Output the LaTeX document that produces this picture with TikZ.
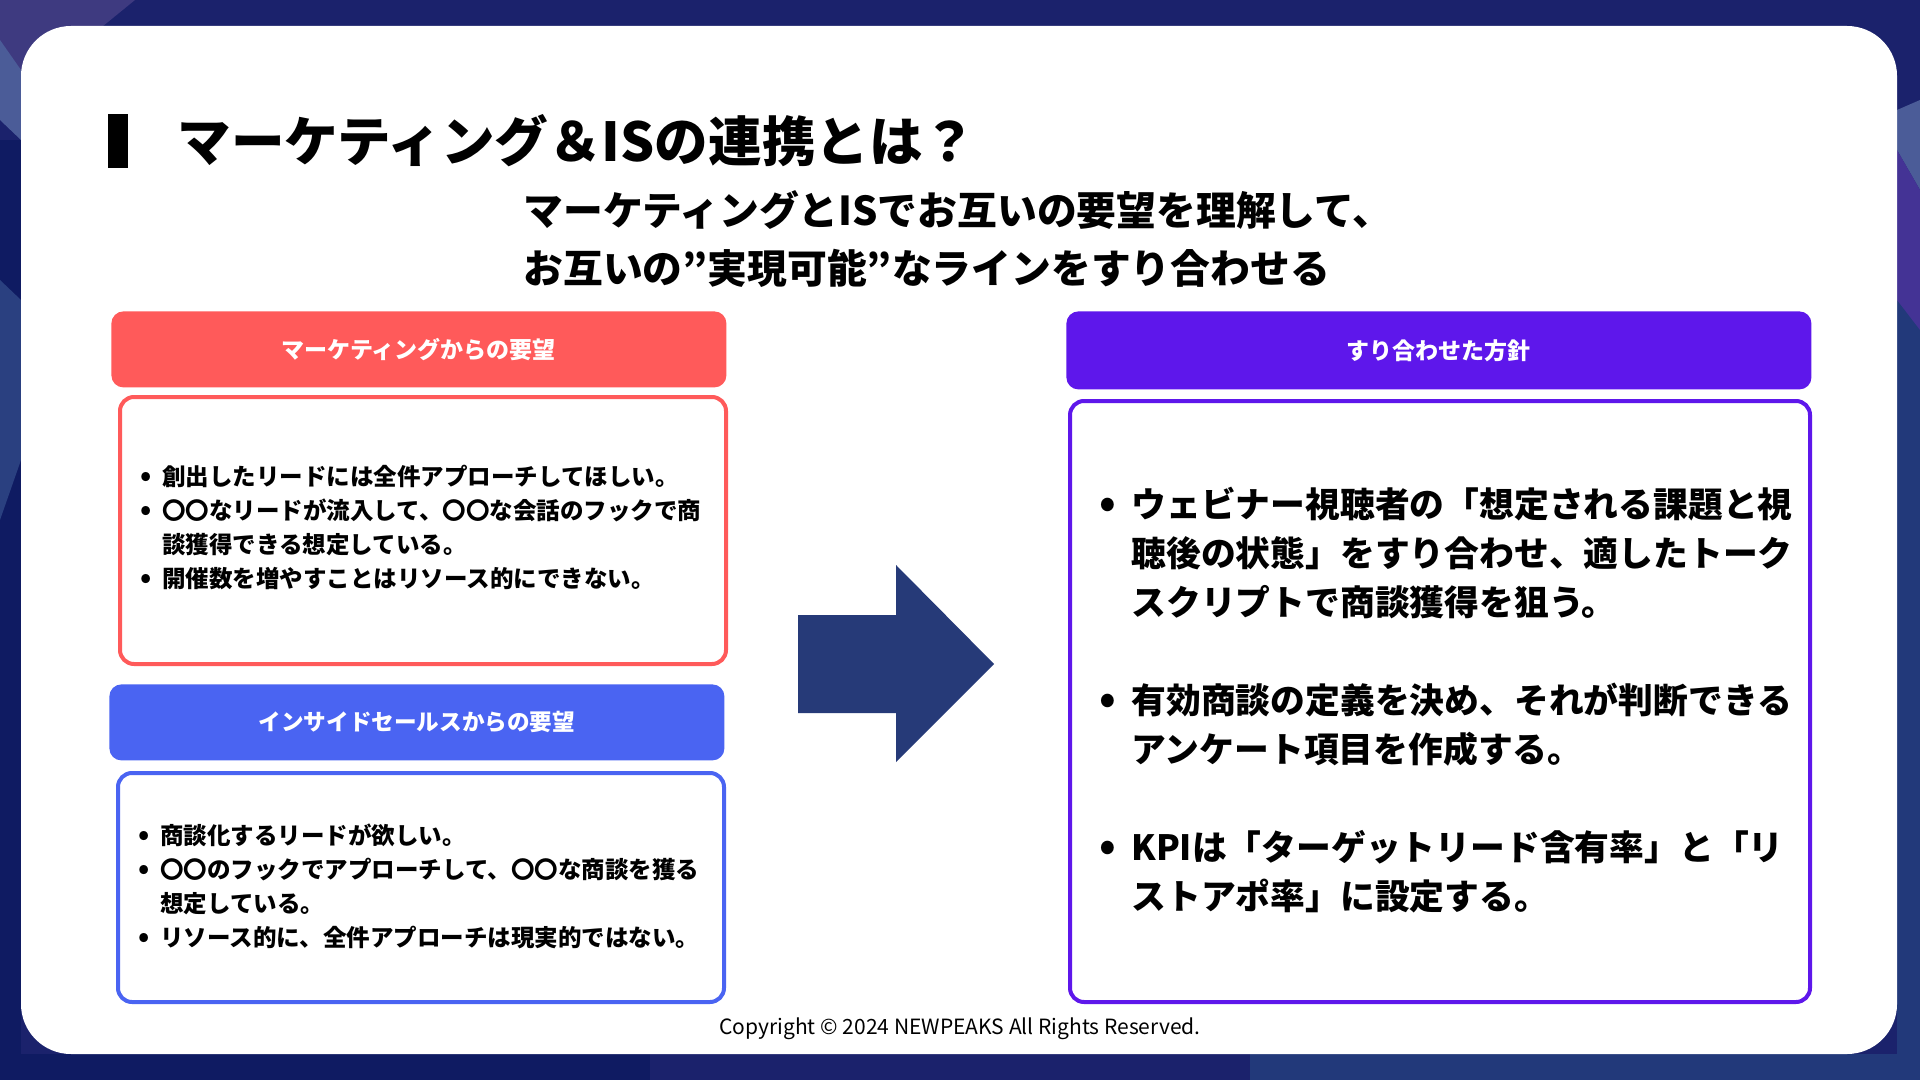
\documentclass[tikz,border=0pt]{standalone}
\usepackage{fontspec}
\usepackage{graphicx}
\setmainfont{Noto Sans CJK JP}
\definecolor{bgnavy}{HTML}{1B226C}
\definecolor{bgdark}{HTML}{0F1B62}
\definecolor{bglight}{HTML}{4B5C98}
\definecolor{bgpurp}{HTML}{3E3A80}
\definecolor{bgblue}{HTML}{22397A}
\definecolor{mkred}{HTML}{FF5A5A}
\definecolor{isblue}{HTML}{4A64F2}
\definecolor{purp}{HTML}{5E17EB}
\definecolor{arrowblue}{HTML}{263A78}
\newcommand\fsz[2]{\fontsize{#1}{#2}\selectfont}
\newcommand\bulA{\makebox[11pt][l]{\scalebox{1.2}{•}}}
\newcommand\indA{\hspace*{11pt}}
\newcommand\bulB{\makebox[16pt][l]{\scalebox{1.2}{•}}}
\newcommand\indB{\hspace*{16pt}}
\begin{document}
\begin{tikzpicture}[x=0.5pt,y=-0.5pt,
  hdrbox/.style={rounded corners=6pt, inner sep=0, anchor=north west, text=white,
     font=\fsz{11.5}{14}\bfseries},
  bodybox/.style={line width=2pt, rounded corners=7pt, inner sep=0, anchor=north west, fill=white},
  bodytext/.style={anchor=base west, align=left, inner sep=0},
]
\useasboundingbox (0,0) rectangle (1920,1080);
% background
\fill[bgnavy] (0,0) rectangle (1920,1080);
\fill[bgpurp] (0,0) -- (135,0) -- (0,110) -- cycle;
\fill[bglight] (0,40) -- (21,70) -- (21,140) -- (0,120) -- cycle;
\fill[bgdark] (0,140) -- (21,140) -- (21,1080) -- (0,1080) -- cycle;
\fill[bgblue!80!bglight] (0,280) -- (21,300) -- (21,460) -- (0,520) -- cycle;
\fill[bgdark] (0,1054) rectangle (650,1080);
\fill[bgblue] (1250,1054) rectangle (1920,1080);
\fill[bgblue] (1897,300) rectangle (1920,1080);
\fill[bglight] (1897,110) -- (1920,100) -- (1920,190) -- (1897,150) -- cycle;
\fill[bgpurp!80!purp] (1897,150) -- (1920,190) -- (1920,330) -- (1897,300) -- cycle;
% card
\fill[white, rounded corners=25pt] (21,26) rectangle (1897,1054);
% title
\node[fill=black, inner sep=0, minimum width=10pt, minimum height=27pt, anchor=north west] (bar) at (108,114) {};
\node[anchor=base west, inner sep=0, font=\fsz{26.8}{30}\bfseries] (title) at (177,162) {マーケティング＆ISの連携とは？};
\node[anchor=base west, align=left, inner sep=0, font=\fsz{19.9}{29}\bfseries] (sub) at (523,284)
  {マーケティングとISでお互いの要望を理解して、\\お互いの”実現可能”なラインをすり合わせる};
% left: marketing
\node[hdrbox, fill=mkred, minimum width=307.5pt, minimum height=38pt] (mkh) at (111,311) {マーケティングからの要望};
\node[bodybox, draw=mkred, minimum width=303pt, minimum height=133.5pt] (mkb) at (118,395) {};
\node[bodytext, font=\fsz{11.75}{17}\bfseries] (mkt) at (140,587)
  {\bulA 創出したリードには全件アプローチしてほしい。\\
   \bulA 〇〇なリードが流入して、〇〇な会話のフックで商\\
   \indA 談獲得できる想定している。\\
   \bulA 開催数を増やすことはリソース的にできない。};
% left: inside sales
\node[hdrbox, fill=isblue, minimum width=307.5pt, minimum height=38pt] (ish) at (109,684) {\fsz{11.3}{14}インサイドセールスからの要望};
\node[bodybox, draw=isblue, minimum width=303pt, minimum height=114.5pt] (isb) at (116,771) {};
\node[bodytext, font=\fsz{11.75}{17}\bfseries] (ist) at (138,946)
  {\bulA 商談化するリードが欲しい。\\
   \bulA 〇〇のフックでアプローチして、〇〇な商談を獲る\\
   \indA 想定している。\\
   \bulA リソース的に、全件アプローチは現実的ではない。};
% arrow
\fill[arrowblue] (798,615) -- (896,615) -- (896,565) -- (994,664) -- (896,762) -- (896,713) -- (798,713) -- cycle;
% right: agreed policy
\node[hdrbox, fill=purp, minimum width=372.5pt, minimum height=39pt] (poh) at (1066,311) {すり合わせた方針};
\node[bodybox, draw=purp, minimum width=370pt, minimum height=300.5pt] (pob) at (1068,399) {};
\node[bodytext, font=\fsz{17.4}{24.5}\bfseries] (pot) at (1099,909)
  {\bulB ウェビナー視聴者の「想定される課題と視\\
   \indB 聴後の状態」をすり合わせ、適したトーク\\
   \indB スクリプトで商談獲得を狙う。\\[24.5pt]
   \bulB 有効商談の定義を決め、それが判断できる\\
   \indB アンケート項目を作成する。\\[24.5pt]
   \bulB KPIは「ターゲットリード含有率」と「リ\\
   \indB ストアポ率」に設定する。};
% footer
\node[font=\fsz{10.5}{12}, inner sep=0] (copy) at (960,1029) {Copyright © 2024 NEWPEAKS All Rights Reserved.};
\end{tikzpicture}
\end{document}
